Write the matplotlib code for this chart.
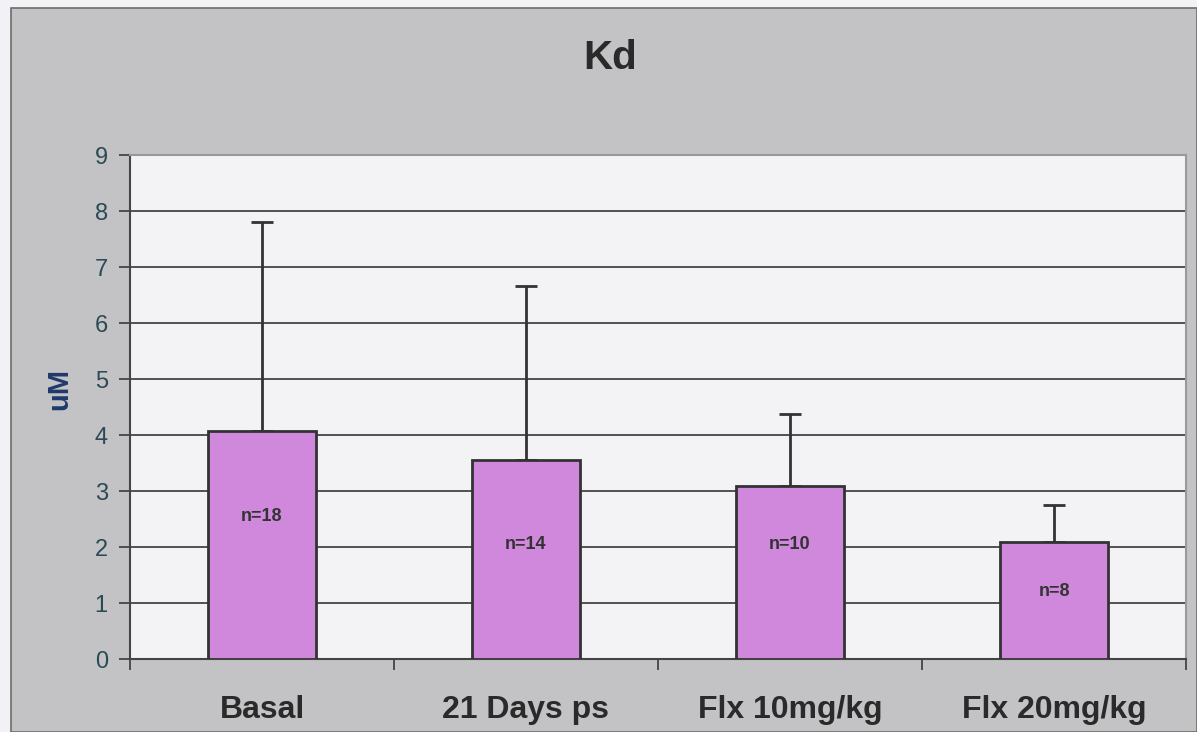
import matplotlib
matplotlib.use("Agg")
import matplotlib.pyplot as plt
from matplotlib.patches import Rectangle
import numpy as np

categories = ["Basal", "21 Days ps", "Flx 10mg/kg", "Flx 20mg/kg"]
means = [4.07, 3.55, 3.09, 2.09]
errors = [3.73, 3.11, 1.28, 0.66]
n_labels = ["n=18", "n=14", "n=10", "n=8"]
n_label_y = [2.55, 2.04, 2.04, 1.21]
yticks = [0, 1, 2, 3, 4, 5, 6, 7, 8, 9]

plt.rcParams['font.family'] = ['Liberation Sans', 'DejaVu Sans']

W, H = 1197, 732
fig = plt.figure(figsize=(W/100, H/100), dpi=100)
fig.patch.set_facecolor('#f2f1f6')
fig.patches.append(Rectangle((11/W, 0), 1 - 11/W, 1 - 8/H, transform=fig.transFigure,
                             facecolor='#c3c3c6', edgecolor='#6a6f6a', linewidth=1.2,
                             zorder=-10))

ax = fig.add_axes([130/W, 73/H, (1186-130)/W, (659-155)/H])
ax.set_zorder(1)
ax.set_facecolor('#f3f3f6')

x = np.arange(len(categories))
ax.bar(x, means, width=0.41, color='#cf88dc', edgecolor='#333333', linewidth=2, zorder=3)
ax.errorbar(x, means, yerr=[np.zeros(len(errors)), errors], fmt='none',
            ecolor='#333333', elinewidth=2, capsize=8, capthick=2, zorder=2)

for xi, lab, yy in zip(x, n_labels, n_label_y):
    ax.text(xi, yy, lab, ha='center', va='center', fontsize=13, fontweight='bold',
            color='#333333', zorder=4)

ax.set_xlim(-0.5, len(categories) - 0.5)
ax.set_ylim(0, 9)
ax.set_yticks(yticks)
ax.set_yticklabels([str(t) for t in yticks], fontsize=17, color='#2a4a55')
ax.yaxis.grid(True, color='#444444', linewidth=1.3, zorder=0)
ax.set_axisbelow(True)

ax.set_xticks(x)
ax.set_xticklabels(categories, fontsize=23, fontweight='bold', color='#2a2a2a')
ax.tick_params(axis='x', which='major', length=0, pad=26)
ax.set_xticks(np.arange(-0.5, len(categories)), minor=True)
ax.tick_params(axis='x', which='minor', length=8, width=1.3, color='#444444', direction='out')
ax.tick_params(axis='y', length=8, width=1.3, color='#444444', direction='out', pad=8)

for side in ['top', 'right']:
    ax.spines[side].set_color('#999999')
    ax.spines[side].set_linewidth(1.5)
for side in ['left', 'bottom']:
    ax.spines[side].set_color('#444444')
    ax.spines[side].set_linewidth(1.5)

ax.set_ylabel('uM', fontsize=21, fontweight='bold', color='#1f3a6a')
ax.yaxis.set_label_coords((73 - 130) / 1056, 0.535)
fig.text(610/W, 1 - 58/H, 'Kd', ha='center', va='center', fontsize=29,
         fontweight='bold', color='#2a2a2a', zorder=2)

fig.savefig('out.png', dpi=100, facecolor=fig.get_facecolor())
